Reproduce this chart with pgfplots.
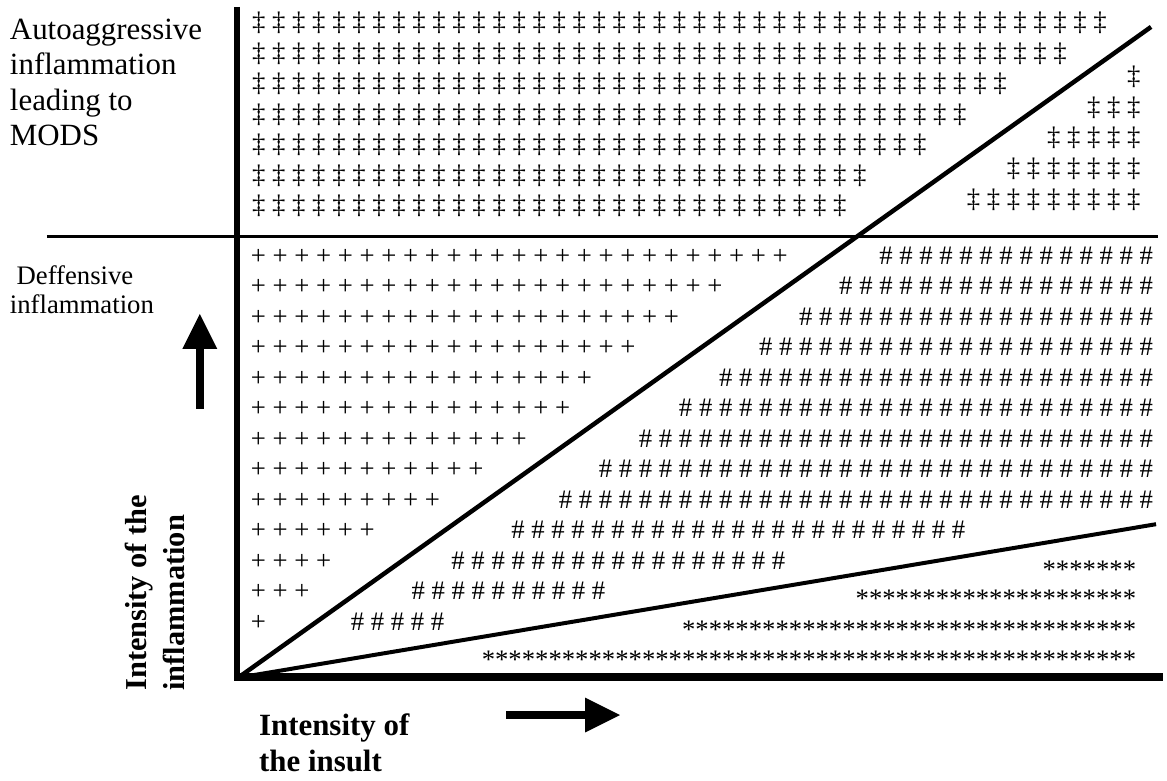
\documentclass[border=0pt]{standalone}
\usepackage{fontspec}
\setmainfont{Liberation Serif}
\usepackage{pgfplots}
\pgfplotsset{compat=1.18}
\usepackage{pgfplotstable}

\newcount\glyphcount
\newcommand\glyphrow[3]{%
  \glyphcount=#2\relax
  #1\advance\glyphcount by -1\relax
  \loop\ifnum\glyphcount>0 #3#1\advance\glyphcount by -1\relax\repeat}

% rows of typed glyphs: x = anchor (pixels), y = baseline (pixels), n = number of glyphs
\pgfplotstableread{
x y n
253 31 43
253 61.6 41
253 92.2 38
253 122.8 36
253 153.4 34
253 184 31
253 214.6 30
}\ddagleft
\pgfplotstableread{
x y n
1144.4 85 1
1144.4 116 3
1144.4 146.5 5
1144.4 177 7
1144.4 208 9
}\ddagright
\pgfplotstableread{
x y n
251.7 265 25
251.7 295.6 22
251.7 326.2 20
251.7 356.8 18
251.7 387.4 16
251.7 418 15
251.7 448.6 13
251.7 479.2 11
251.7 509.8 9
251.7 540.4 6
251.7 571 4
251.7 601.6 3
251.7 632.2 1
}\plusrows
\pgfplotstableread{
x y n
1157 265 14
1157 295.6 16
1157 326.2 18
1157 356.8 20
1157 387.4 22
1157 418 24
1157 448.6 26
1157 479.2 28
1157 509.8 30
}\hashright
\pgfplotstableread{
x y n
513 540.4 23
453 571 17
413 601.6 10
352 632.2 5
}\hashleft
\pgfplotstableread{
x y n
1140 580 7
1140 610 21
1140 641 34
1140 671 49
}\starrows

\pgfplotsset{glyphs/.style n args={3}{draw=none, mark=none,
  point meta=explicit symbolic,
  nodes near coords={\glyphrow{#1}{\pgfplotspointmeta}{#2}},
  every node near coord/.append style={anchor=#3, inner sep=0pt, outer sep=0pt, text=black,
     font=\fontsize{26.8bp}{30.6bp}\selectfont}}}

\begin{document}
\begin{tikzpicture}
\begin{axis}[width=1167bp, height=783bp, scale only axis,
  xmin=0, xmax=1167, ymin=0, ymax=783, y dir=reverse,
  hide axis, clip=false]
\addplot[draw=none, mark=none] coordinates {(0,0) (1167,783)};

% glyph fields
\addplot[glyphs={‡}{\space}{base west}] table[x=x,y=y,meta=n]{\ddagleft};
\addplot[glyphs={‡}{\space}{base east}] table[x=x,y=y,meta=n]{\ddagright};
\addplot[glyphs={+}{\space}{base west}] table[x=x,y=y,meta=n]{\plusrows};
\addplot[glyphs={\#}{\space}{base east}] table[x=x,y=y,meta=n]{\hashright};
\addplot[glyphs={\#}{\space}{base west}] table[x=x,y=y,meta=n]{\hashleft};
\addplot[glyphs={*}{}{base east}] table[x=x,y=y,meta=n]{\starrows};

% axes and dividing lines
\addplot[black, mark=none, line width=6.5bp] coordinates {(238,7) (238,683)};
\addplot[black, mark=none, line width=8bp] coordinates {(235,679) (1167,679)};
\addplot[black, mark=none, line width=2.5bp] coordinates {(47,237.5) (1162,237.5)};
\addplot[black, mark=none, line width=4.5bp] coordinates {(239,680) (1155,27)};
\addplot[black, mark=none, line width=4bp] coordinates {(239,680) (1160,526)};

% arrows
\addplot[black, mark=none, line width=7.5bp] coordinates {(200.5,410) (200.5,348)};
\addplot[draw=none, fill=black, mark=none] coordinates {(183,350) (218,350) (200.5,315)};
\addplot[black, mark=none, line width=8.5bp] coordinates {(508,717.5) (589,717.5)};
\addplot[draw=none, fill=black, mark=none] coordinates {(587,700) (587,735) (622,717.5)};

% labels
\begin{scope}[every node/.style={anchor=base west, inner sep=0pt, outer sep=0pt}]
\node[font=\fontsize{31bp}{35bp}\selectfont] at (axis cs:10,39.5) {Autoaggressive};
\node[font=\fontsize{31bp}{35bp}\selectfont] at (axis cs:10,75) {inflammation};
\node[font=\fontsize{31bp}{35bp}\selectfont] at (axis cs:10,110.5) {leading to};
\node[font=\fontsize{31bp}{35bp}\selectfont] at (axis cs:10,146) {MODS};
\node[font=\fontsize{26.8bp}{30bp}\selectfont] at (axis cs:16.7,285) {Deffensive};
\node[font=\fontsize{26.8bp}{30bp}\selectfont] at (axis cs:10,315) {inflammation};
\node[rotate=90, font=\bfseries\fontsize{30.5bp}{36bp}\selectfont] at (axis cs:146.7,693) {Intensity of the};
\node[rotate=90, font=\bfseries\fontsize{30.5bp}{36bp}\selectfont] at (axis cs:185,693) {inflammation};
\node[font=\bfseries\fontsize{31bp}{36bp}\selectfont] at (axis cs:260,738) {Intensity of};
\node[font=\bfseries\fontsize{31bp}{36bp}\selectfont] at (axis cs:260,774) {the insult};
\end{scope}
\end{axis}
\end{tikzpicture}
\end{document}
